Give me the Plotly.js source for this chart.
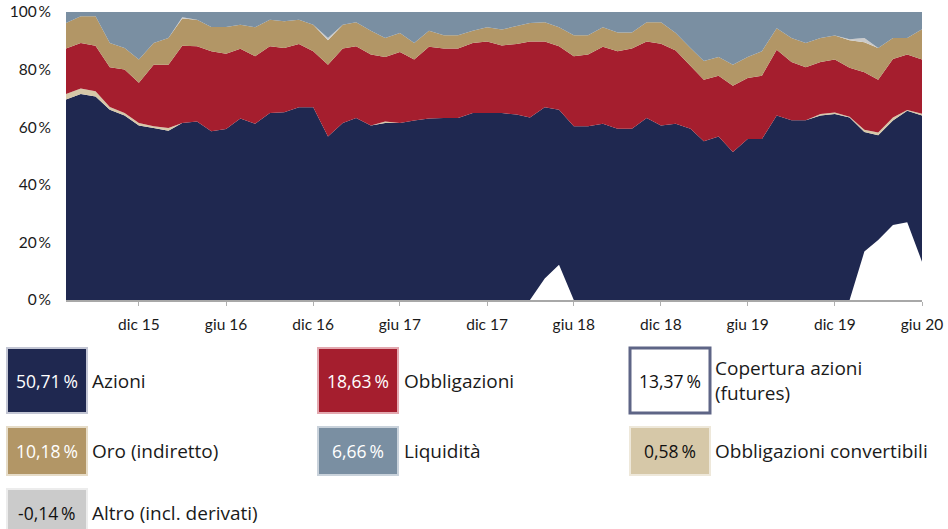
<!DOCTYPE html>
<html><head><meta charset="utf-8">
<script src="https://cdn.plot.ly/plotly-3.0.1.min.js"></script>
<style>html,body{margin:0;padding:0;background:#fff;} #chart{width:948px;height:529px;}</style>
</head><body><div id="chart"></div>
<script>
const months = [
 "2015-07","2015-08","2015-09","2015-10","2015-11","2015-12",
 "2016-01","2016-02","2016-03","2016-04","2016-05","2016-06","2016-07","2016-08","2016-09","2016-10","2016-11","2016-12",
 "2017-01","2017-02","2017-03","2017-04","2017-05","2017-06","2017-07","2017-08","2017-09","2017-10","2017-11","2017-12",
 "2018-01","2018-02","2018-03","2018-04","2018-05","2018-06","2018-07","2018-08","2018-09","2018-10","2018-11","2018-12",
 "2019-01","2019-02","2019-03","2019-04","2019-05","2019-06","2019-07","2019-08","2019-09","2019-10","2019-11","2019-12",
 "2020-01","2020-02","2020-03","2020-04","2020-05","2020-06"];

// Azioni (net), %
const azioni = [69.6,71.5,70.7,66.1,64.1,60.6,59.7,58.8,61.5,62.0,
 58.6,59.4,63.0,61.2,64.9,65.2,66.9,66.9,56.8,61.5,
 63.2,60.6,61.5,61.5,62.3,63.0,63.2,63.2,64.9,64.9,
 64.9,64.4,63.4,59.4,53.9,60.3,60.3,61.2,59.5,59.5,
 63.2,60.6,61.2,59.5,55.1,56.8,51.4,55.9,55.9,64.1,
 62.4,62.4,64.1,64.6,63.4,41.5,36.4,36.3,38.7,50.8];
// Copertura azioni (futures), hedge size in %
const copertura = [0,0,0,0,0,0,0,0,0,0,
 0,0,0,0,0,0,0,0,0,0,
 0,0,0,0,0,0,0,0,0,0,
 0,0,0,7.5,12.2,0,0,0,0,0,
 0,0,0,0,0,0,0,0,0,0,
 0,0,0,0,0,16.8,20.8,26.0,27.0,13.3];
const convertibili = [1.9,1.9,1.8,0.9,0.8,0.9,0.6,0.9,0,0,
 0,0,0,0,0,0,0,0,0,0,
 0,0,0.5,0,0,0,0,0,0,0,
 0,0,0,0,0,0,0,0,0,0,
 0,0,0,0,0,0,0,0,0,0,
 0,0,0.5,0.5,0.2,0.8,1.0,1.1,0.3,0.6];
const obbligazioni = [15.8,15.8,15.8,13.8,15.1,13.9,21.4,22.0,26.8,26.1,
 27.8,26.1,24.2,23.4,23.2,22.3,22.0,19.5,24.9,25.8,
 24.9,24.6,22.4,24.6,21.2,24.9,24.1,24.1,24.3,24.9,
 23.5,24.5,26.4,22.9,22.0,24.3,24.9,26.7,26.9,27.8,
 26.6,28.4,25.4,21.7,21.4,21.1,23.0,21.2,22.0,22.8,
 20.2,18.4,18.0,18.4,17.0,20.0,18.3,20.3,19.2,18.8];
const oro = [8.9,9.3,10.2,8.4,7.5,8.1,7.5,9.3,9.4,9.2,
 8.4,9.3,8.4,10.1,9.2,9.3,8.4,9.2,8.5,8.3,
 8.3,8.3,6.6,6.6,5.7,5.6,4.6,4.6,4.3,4.9,
 5.5,6.1,6.4,6.6,6.6,7.3,6.7,6.8,6.5,5.6,
 6.6,7.4,6.1,6.3,6.5,6.5,7.3,7.3,8.5,7.5,
 8.4,8.4,8.4,8.3,9.6,10.4,11.0,7.3,5.8,10.5];
const altro = [0,0,0,0,0,0,0,0,0.5,0,
 0,0,0,0,0,0,0,0,0.8,0,
 0,0,0,0,0,0,0,0,0,0,
 0,0,0,0,0,0,0,0,0,0,
 0,0,0,0,0,0,0,0,0,0,
 0,0,0,0,0.3,1.5,0,0,0,0];
const liquidita = [3.8,1.5,1.5,10.8,12.5,16.5,10.8,9.0,1.8,2.7,
 5.2,5.2,4.4,5.3,2.7,3.2,2.7,4.4,9.0,4.4,
 3.6,6.5,9.0,7.3,10.8,6.5,8.1,8.1,6.5,5.3,
 6.1,5.0,3.8,3.6,5.3,8.1,8.1,5.3,7.1,7.1,
 3.6,3.6,7.3,12.5,17.0,15.6,18.3,15.6,13.6,5.6,
 9.0,10.8,9.0,8.2,9.5,9.0,12.5,9.0,9.0,6.0];

const xTickVals = ["2015-12","2016-06","2016-12","2017-06","2017-12","2018-06","2018-12","2019-06","2019-12","2020-06"];
const xTickText = ["dic 15","giu 16","dic 16","giu 17","dic 17","giu 18","dic 18","giu 19","dic 19","giu 20"];
const yTickVals = [0,20,40,60,80,100];
const yTickText = ["0\u2009%","20\u2009%","40\u2009%","60\u2009%","80\u2009%","100\u2009%"];

const legendValues = ["50,71\u2009%","18,63\u2009%","13,37\u2009%","10,18\u2009%","6,66\u2009%","0,58\u2009%","-0,14\u2009%"];
const legendLabels = ["Azioni","Obbligazioni","Copertura azioni<br>(futures)","Oro (indiretto)","Liquidità","Obbligazioni convertibili","Altro (incl. derivati)"];

const C = {navy:"#1f2850", red:"#a51e2e", gold:"#b29666", blue:"#7a8fa2", beige:"#d6c8a8", gray:"#cbcbcb"};

const azioniLorde = azioni.map((v,i)=>v+copertura[i]);

function area(name, y, color){
  return {type:"scatter", mode:"lines", x:months, y:y, name:name, stackgroup:"one",
    line:{width:0, shape:"linear"}, fillcolor:color, hoverinfo:"skip"};
}
const data = [
  area("Azioni", azioniLorde, C.navy),
  area("Obbligazioni convertibili", convertibili, C.beige),
  area("Obbligazioni", obbligazioni, C.red),
  area("Oro (indiretto)", oro, C.gold),
  area("Altro (incl. derivati)", altro, C.gray),
  area("Liquidità", liquidita, C.blue),
  {type:"scatter", mode:"lines", x:months, y:copertura, name:"Copertura azioni (futures)",
   fill:"tozeroy", fillcolor:"#ffffff", line:{width:0}, hoverinfo:"skip"}
];

// plot area geometry in pixels
const L=66, R=922, T=12, B=300, W=948, H=529;
const px = x => (x-L)/(R-L);
const py = y => (B-y)/(B-T);

const FONT = "Lato, 'Liberation Sans', sans-serif";
const LFONT = "'Open Sans', 'Liberation Sans', sans-serif";
const shapes = [], annotations = [];
const legendBoxes = [
  {x:7, y0:348, y1:413, fill:C.navy, border:"#c3c6d4", tc:"#ffffff", lx:92},
  {x:318, y0:348, y1:413, fill:C.red, border:"#e3a9b0", tc:"#ffffff", lx:404},
  {x:630, y0:348, y1:413, fill:"#ffffff", border:"#5e6586", tc:"#111111", lx:715, bw:3},
  {x:7, y0:427, y1:475, fill:C.gold, border:"#e6dcc8", tc:"#ffffff", lx:92},
  {x:318, y0:427, y1:475, fill:C.blue, border:"#c9d2db", tc:"#ffffff", lx:404},
  {x:630, y0:427, y1:475, fill:C.beige, border:"#eee8da", tc:"#111111", lx:715},
  {x:7, y0:489, y1:540, fill:C.gray, border:"#ececec", tc:"#111111", lx:92}
];
legendBoxes.forEach((b,i)=>{
  shapes.push({type:"rect", xref:"paper", yref:"paper", x0:px(b.x), x1:px(b.x+80), y0:py(b.y1), y1:py(b.y0),
    fillcolor:b.fill, line:{color:b.border, width:b.bw||2}, layer:"above"});
  const yc = i===6 ? 513 : (b.y0+b.y1)/2;
  annotations.push({xref:"paper", yref:"paper", x:px(b.x+40), y:py(yc), xanchor:"center", yanchor:"middle",
    text:legendValues[i], showarrow:false, font:{family:LFONT, size:17.5, color:b.tc}});
  annotations.push({xref:"paper", yref:"paper", x:px(b.lx-2), y:py(yc), xanchor:"left", yanchor:"middle", align:"left",
    text:legendLabels[i], showarrow:false, font:{family:LFONT, size:19, color:"#1a1a1a"}});
});

const layout = {
  width:W, height:H, margin:{l:L, r:W-R, t:T, b:H-B, pad:0},
  paper_bgcolor:"#ffffff", plot_bgcolor:"#ffffff", showlegend:false,
  font:{family:FONT, size:15, color:"#1a1a1a"},
  xaxis:{type:"date", range:[months[0], months[months.length-1]], tickmode:"array", tickvals:xTickVals, ticktext:xTickText,
    ticks:"outside", ticklen:4, tickcolor:"#b0b0b0", showline:true, linecolor:"#a8a8a8", linewidth:1.5,
    showgrid:false, zeroline:false, ticklabelstandoff:6, tickfont:{family:FONT, size:15.5, color:"#1a1a1a"}},
  yaxis:{range:[0,100], tickmode:"array", tickvals:yTickVals, ticktext:yTickText, ticks:"", showgrid:false,
    zeroline:false, showline:false, ticklabelstandoff:14, tickfont:{family:FONT, size:15.5, color:"#1a1a1a"}},
  shapes:shapes, annotations:annotations
};
Plotly.newPlot("chart", data, layout, {staticPlot:true, displayModeBar:false});
</script></body></html>
